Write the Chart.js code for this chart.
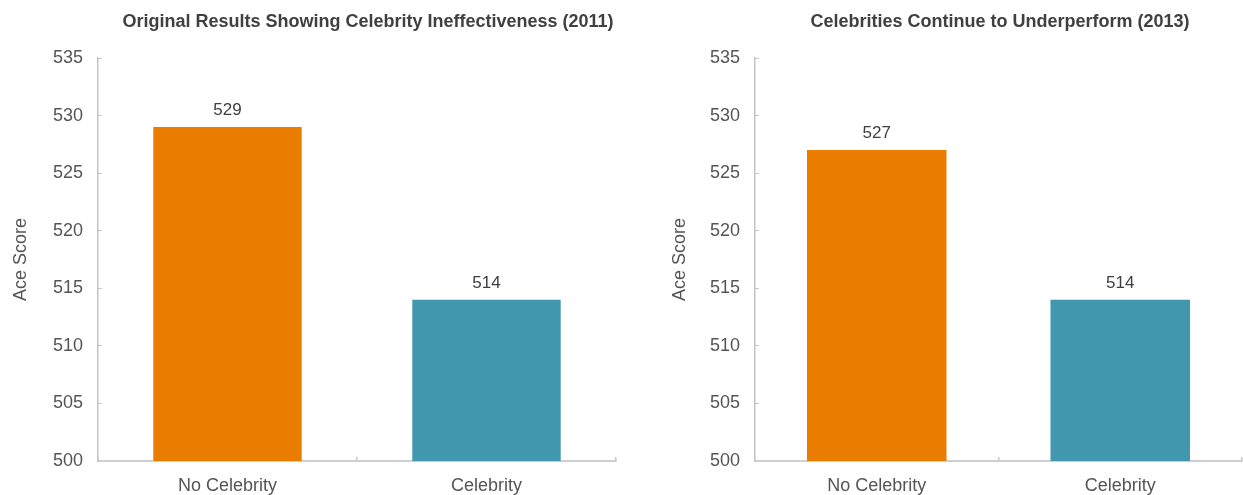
<!DOCTYPE html>
<html><head><meta charset="utf-8">
<script src="https://cdn.jsdelivr.net/npm/chart.js@4.4.1/dist/chart.umd.min.js"></script>
<style>
html,body{margin:0;padding:0;background:#fff;overflow:hidden;width:1243px;height:495px;position:relative;}
.box{position:absolute;top:0;height:495px;}
canvas{display:block;}
</style></head><body>
<div class="box" style="left:0;width:640px"><canvas id="c1" width="640" height="495"></canvas></div>
<div class="box" style="left:640px;width:603px"><canvas id="c2" width="603" height="495"></canvas></div>
<script>
const categories = ['No Celebrity', 'Celebrity'];
const values2011 = [529, 514];
const values2013 = [527, 514];
const yMin = 500, yMax = 535, yStep = 5;
const titles = ['Original Results Showing Celebrity Ineffectiveness (2011)', 'Celebrities Continue to Underperform (2013)'];
const yAxisTitle = 'Ace Score';
const barColors = ['#EA7D00', '#4197AE'];

const FAMILY = '"Liberation Sans", Arial, Helvetica, sans-serif';

const valueLabels = {
  id: 'valueLabels',
  afterDatasetsDraw(chart) {
    const ctx = chart.ctx;
    const meta = chart.getDatasetMeta(0);
    const data = chart.data.datasets[0].data;
    ctx.save();
    ctx.font = '17px ' + FAMILY;
    ctx.fillStyle = '#404040';
    ctx.textAlign = 'center';
    ctx.textBaseline = 'bottom';
    meta.data.forEach((bar, i) => ctx.fillText(String(data[i]), bar.x, bar.y - 8));
    ctx.restore();
  }
};

const centeredTitle = {
  id: 'centeredTitle',
  afterDraw(chart, args, opts) {
    const ctx = chart.ctx;
    const a = chart.chartArea;
    ctx.save();
    ctx.font = 'bold 18px ' + FAMILY;
    ctx.fillStyle = '#404040';
    ctx.textAlign = 'center';
    ctx.textBaseline = 'middle';
    ctx.fillText(opts.text, (a.left + a.right) / 2 + opts.shift, 22);
    ctx.restore();
  }
};

function makeChart(id, title, values, padLeft, yWidth, padRight, shift) {
  return new Chart(document.getElementById(id), {
    type: 'bar',
    data: {
      labels: categories,
      datasets: [{ data: values, backgroundColor: barColors, borderWidth: 0,
        categoryPercentage: 1, barPercentage: 0.573 }]
    },
    options: {
      responsive: false, animation: false,
      layout: { padding: { left: padLeft, right: padRight, top: 58, bottom: 0 } },
      plugins: {
        legend: { display: false }, tooltip: { enabled: false }, title: { display: false },
        centeredTitle: { text: title, shift: shift }
      },
      scales: {
        x: {
          grid: { display: true, offset: true, drawOnChartArea: false, drawTicks: true, tickLength: -4, color: '#c8c8c8', lineWidth: 1.5 },
          border: { display: true, color: '#cfcfcf', width: 2 },
          ticks: { color: '#555555', font: { family: FAMILY, size: 18 }, padding: 18 },
          afterFit: s => { s.height = 34; }
        },
        y: {
          min: yMin, max: yMax,
          grid: { display: true, drawOnChartArea: false, drawTicks: true, tickLength: -4, color: '#c8c8c8', lineWidth: 1 },
          border: { display: true, color: '#c4c4c4', width: 1.5 },
          ticks: { stepSize: yStep, color: '#555555', font: { family: FAMILY, size: 18 }, padding: 19 },
          title: { display: true, text: yAxisTitle, color: '#555555', font: { family: FAMILY, size: 18 }, padding: { top: 0, bottom: 0 } },
          afterFit: s => { s.width = yWidth; }
        }
      }
    },
    plugins: [valueLabels, centeredTitle]
  });
}

makeChart('c1', titles[0], values2011, 10, 88, 24, 11);
makeChart('c2', titles[1], values2013, 29, 86, 1, 1.5);
</script>
</body></html>
